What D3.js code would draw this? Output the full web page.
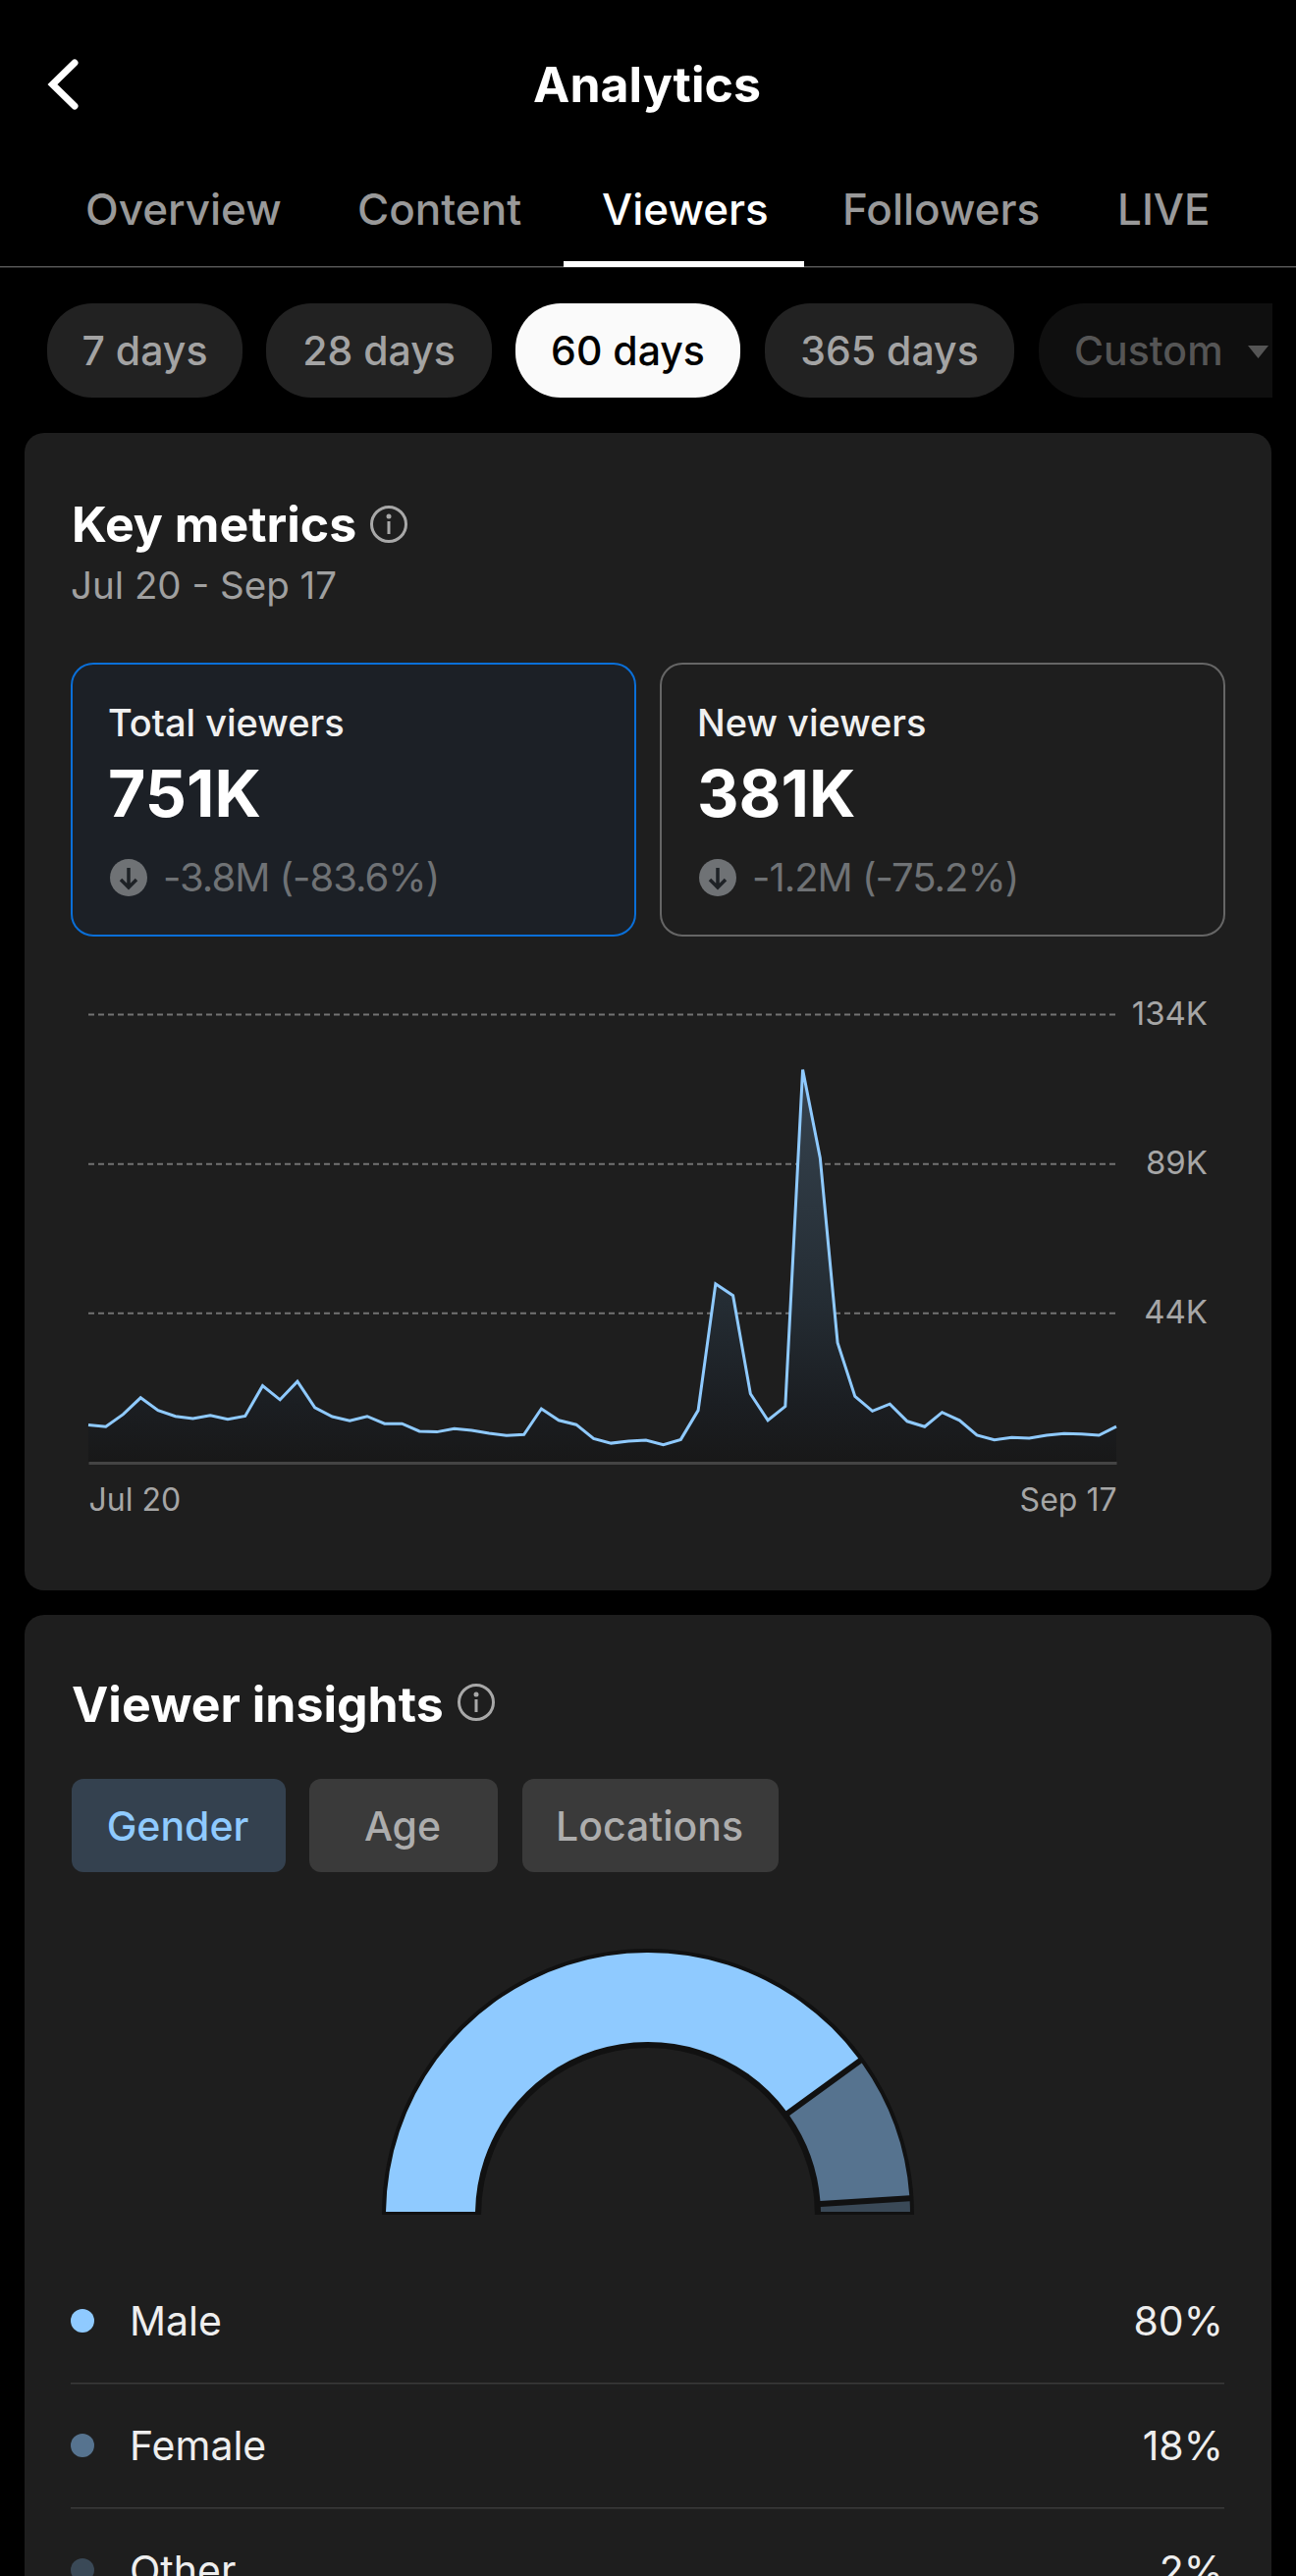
<!DOCTYPE html>
<html>
<head>
<meta charset="utf-8">
<title>Analytics</title>
<script src="https://d3js.org/d3.v7.min.js"></script>
<style>
  html, body { margin: 0; padding: 0; background: #000; }
  svg { display: block; }
  text { font-family: Inter, Roboto, sans-serif; }
  .grid .domain { display: none; }
  .grid .tick line { stroke: #727272; stroke-width: 2; stroke-dasharray: 6 4; }
  .grid .tick text { fill: #a6a6a6; font-size: 33px; }
  .xaxis .domain { stroke: #444; stroke-width: 3; }
  .xaxis .tick line { display: none; }
  .xaxis .tick text { fill: #a6a6a6; font-size: 32px; }
</style>
</head>
<body>
<svg id="chart" width="1320" height="2624"></svg>
<script>
// viewers per day, in thousands, Jul 20 - Sep 17
const viewers = [
  10.2, 9.7, 13.4, 18.4, 14.6, 12.8, 12.1, 13.1, 11.9, 12.9,
  22.0, 17.8, 23.3, 15.4, 12.7, 11.5, 12.8, 10.6, 10.6, 8.3,
  8.1, 9.1, 8.6, 7.7, 7.0, 7.3, 15.1, 11.6, 10.3, 6.1,
  4.7, 5.3, 5.6, 4.2, 5.8, 14.6, 52.7, 49.2, 19.6, 11.6,
  15.8, 117.3, 90.7, 35.0, 18.8, 14.4, 16.5, 11.3, 9.7, 14.0,
  11.6, 7.1, 5.7, 6.4, 6.2, 7.1, 7.6, 7.5, 7.1, 9.7
];
const yTicks = [44, 89, 134];
const xTickLabels = ['Jul 20', 'Sep 17'];

const genders = ['Male', 'Female', 'Other'];
const genderShares = [80, 18, 2];

const tabs = ['Overview', 'Content', 'Viewers', 'Followers', 'LIVE'];
const ranges = ['7 days', '28 days', '60 days', '365 days', 'Custom'];
const insightTabs = ['Gender', 'Age', 'Locations'];
const metricNames = ['Total viewers', 'New viewers'];
const metricValues = ['751K', '381K'];
const metricDeltas = ['-3.8M (-83.6%)', '-1.2M (-75.2%)'];

const svg = d3.select('#chart');

function label(parent, x, y, str, size, weight, fill, anchor) {
  return parent.append('text')
    .attr('x', x)
    .attr('y', y)
    .attr('font-size', size)
    .attr('font-weight', weight)
    .attr('fill', fill)
    .attr('text-anchor', anchor || 'start')
    .text(str);
}

function infoIcon(cx, cy) {
  const g = svg.append('g').attr('transform', `translate(${cx}, ${cy})`);
  g.append('circle').attr('r', 17.5).attr('fill', 'none').attr('stroke', '#a8a8a8').attr('stroke-width', 3);
  g.append('circle').attr('cy', -8).attr('r', 2.5).attr('fill', '#a8a8a8');
  g.append('rect').attr('x', -1.5).attr('y', -3).attr('width', 3).attr('height', 13).attr('fill', '#a8a8a8');
}

// header
svg.append('path')
  .attr('d', 'M76,64 L53.5,86 L76,108')
  .attr('fill', 'none')
  .attr('stroke', '#fff')
  .attr('stroke-width', 7)
  .attr('stroke-linecap', 'round')
  .attr('stroke-linejoin', 'miter');
label(svg, 659, 104, 'Analytics', 50, 700, '#fff', 'middle');

const tabX = [87, 364, 613, 858, 1138];
tabs.forEach((t, i) => {
  label(svg, tabX[i], 229, t, 44, 500, t === 'Viewers' ? '#fff' : '#999');
});
svg.append('rect').attr('x', 0).attr('y', 271).attr('width', 1320).attr('height', 1.5).attr('fill', '#555');
svg.append('rect').attr('x', 574).attr('y', 266).attr('width', 245).attr('height', 6).attr('fill', '#fff');

// date range pills
const pillX = [48, 271, 525, 779, 1058];
const pillW = [199, 230, 229, 254, 290];
const pillClip = svg.append('clipPath').attr('id', 'pill-clip');
pillClip.append('rect').attr('x', 0).attr('y', 300).attr('width', 1296).attr('height', 110);
const pills = svg.append('g').attr('clip-path', 'url(#pill-clip)');
ranges.forEach((r, i) => {
  const active = r === '60 days';
  const muted = r === 'Custom';
  pills.append('rect')
    .attr('x', pillX[i]).attr('y', 309)
    .attr('width', pillW[i]).attr('height', 96)
    .attr('rx', 46)
    .attr('fill', active ? '#fafafa' : muted ? '#0f0f0f' : '#222');
  if (muted) {
    label(pills, 1094, 372, r, 41, 500, '#555');
  } else {
    label(pills, pillX[i] + pillW[i] / 2, 372, r, 41, 500, active ? '#000' : '#a3a3a3', 'middle');
  }
});
pills.append('path').attr('d', 'M1271,352 L1292,352 L1281.5,365 Z').attr('fill', '#555');

// cards
svg.append('rect').attr('x', 25).attr('y', 441).attr('width', 1270).attr('height', 1179).attr('rx', 20).attr('fill', '#1e1e1e');
svg.append('rect').attr('x', 25).attr('y', 1645).attr('width', 1270).attr('height', 1020).attr('rx', 20).attr('fill', '#1e1e1e');

// key metrics
label(svg, 73, 552, 'Key metrics', 50, 700, '#fff');
infoIcon(396, 534);
label(svg, 72, 610, 'Jul 20 - Sep 17', 38.5, 400, '#a0a0a0');

const boxX = [73, 673];
metricNames.forEach((name, i) => {
  const x = boxX[i];
  svg.append('rect')
    .attr('x', x).attr('y', 676)
    .attr('width', 574).attr('height', 277)
    .attr('rx', 22)
    .attr('fill', i === 0 ? '#1c2026' : 'none')
    .attr('stroke', i === 0 ? '#0a6fd8' : '#666')
    .attr('stroke-width', 2);
  label(svg, x + 37, 750, name, 38, 500, '#f0f0f0');
  label(svg, x + 37, 832, metricValues[i], 66, 700, '#fff');
  const icon = svg.append('g').attr('transform', `translate(${x + 58}, 894)`);
  icon.append('circle').attr('r', 19).attr('fill', '#6f7275');
  icon.append('path')
    .attr('d', 'M0,-10 L0,9 M-8,2 L0,10 L8,2')
    .attr('fill', 'none')
    .attr('stroke', '#1e2226')
    .attr('stroke-width', 3.5);
  label(svg, x + 93, 908, metricDeltas[i], 40, 400, '#6f7275')
    .attr('letter-spacing', -1);
});

// line chart
const xScale = d3.scaleLinear()
  .domain([0, viewers.length - 1])
  .range([90, 1137]);
const yScale = d3.scaleLinear()
  .domain([0, 134])
  .range([1486, 1033]);
const baseY = 1490;

const defs = svg.append('defs');
const fade = defs.append('linearGradient')
  .attr('id', 'area-fade')
  .attr('gradientUnits', 'userSpaceOnUse')
  .attr('x1', 0).attr('x2', 0)
  .attr('y1', yScale(d3.max(viewers))).attr('y2', baseY);
fade.append('stop').attr('offset', 0).attr('stop-color', '#36434f');
fade.append('stop').attr('offset', 0.6).attr('stop-color', '#242c33');
fade.append('stop').attr('offset', 0.85).attr('stop-color', '#1b1e22');
fade.append('stop').attr('offset', 1).attr('stop-color', '#181818');

svg.append('g')
  .attr('class', 'grid')
  .attr('transform', 'translate(1136, 0)')
  .call(d3.axisRight(yScale)
    .tickValues(yTicks)
    .tickSize(-(xScale.range()[1] - xScale.range()[0]))
    .tickFormat((d) => `${d}K`))
  .call((g) => g.selectAll('.tick text')
    .attr('x', 94)
    .attr('text-anchor', 'end'));

svg.append('path')
  .datum(viewers)
  .attr('fill', 'url(#area-fade)')
  .attr('d', d3.area()
    .x((d, i) => xScale(i))
    .y0(baseY)
    .y1((d) => yScale(d)));

svg.append('path')
  .datum(viewers)
  .attr('fill', 'none')
  .attr('stroke', '#8fcaff')
  .attr('stroke-width', 3)
  .attr('stroke-linejoin', 'miter')
  .attr('d', d3.line()
    .x((d, i) => xScale(i))
    .y((d) => yScale(d)));

svg.append('g')
  .attr('class', 'xaxis')
  .attr('transform', `translate(0, ${baseY})`)
  .call(d3.axisBottom(xScale)
    .tickValues(xScale.domain())
    .tickSize(0)
    .tickSizeOuter(0)
    .tickFormat((d, i) => xTickLabels[i]))
  .call((g) => g.selectAll('.tick text')
    .attr('y', 49)
    .attr('dy', 0)
    .attr('text-anchor', (d, i) => i === 0 ? 'start' : 'end'));

// viewer insights
label(svg, 73, 1754, 'Viewer insights', 50, 700, '#fff');
infoIcon(485, 1734);

const insightX = [73, 315, 532];
const insightW = [218, 192, 261];
insightTabs.forEach((t, i) => {
  const active = t === 'Gender';
  svg.append('rect')
    .attr('x', insightX[i]).attr('y', 1812)
    .attr('width', insightW[i]).attr('height', 95)
    .attr('rx', 12)
    .attr('fill', active ? '#34414f' : '#3a3a3a');
  label(svg, insightX[i] + insightW[i] / 2 - 1, 1875, t, 41, 500, active ? '#8fcaff' : '#adadad', 'middle');
});

// gender half donut
const genderColor = d3.scaleOrdinal()
  .domain(genders)
  .range(['#8fcaff', '#56738f', '#3a4957']);

const donut = svg.append('g').attr('transform', 'translate(660, 2256)');
const halfPie = d3.pie()
  .sort(null)
  .startAngle(-Math.PI / 2)
  .endAngle(Math.PI / 2);

donut.append('path')
  .attr('fill', '#111')
  .attr('d', d3.arc()
    .innerRadius(170)
    .outerRadius(271)
    .startAngle(-Math.PI / 2)
    .endAngle(Math.PI / 2));

const sliceArc = d3.arc()
  .innerRadius(176)
  .outerRadius(267)
  .padRadius(220)
  .padAngle(6 / 220);

donut.selectAll('path.slice')
  .data(halfPie(genderShares))
  .enter()
  .append('path')
  .attr('class', 'slice')
  .attr('fill', (d, i) => genderColor(genders[i]))
  .attr('d', sliceArc);

// legend rows
const rowY = d3.scalePoint()
  .domain(genders)
  .range([2364, 2618]);

const rows = svg.selectAll('g.row')
  .data(genders)
  .enter()
  .append('g')
  .attr('class', 'row')
  .attr('transform', (g) => `translate(0, ${rowY(g)})`);

rows.append('circle')
  .attr('cx', 84)
  .attr('r', 12)
  .attr('fill', (g) => genderColor(g));

rows.append('text')
  .attr('x', 132)
  .attr('y', 15)
  .attr('font-size', 41)
  .attr('fill', '#eee')
  .text((g) => g);

rows.append('text')
  .attr('x', 1246)
  .attr('y', 15)
  .attr('font-size', 41)
  .attr('fill', '#eee')
  .attr('text-anchor', 'end')
  .text((g, i) => `${genderShares[i]}%`);

rows.filter((g, i) => i < genders.length - 1)
  .append('rect')
  .attr('x', 72)
  .attr('y', 63)
  .attr('width', 1175)
  .attr('height', 1.5)
  .attr('fill', '#3a3a3a');
</script>
</body>
</html>
